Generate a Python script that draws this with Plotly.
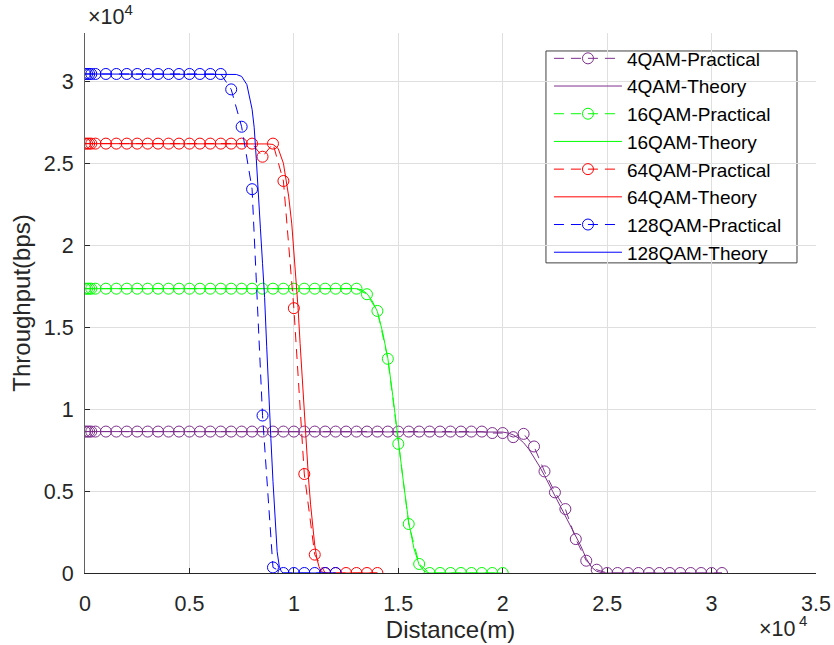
import plotly.graph_objects as go

# ---------------- data ----------------
# Practical (simulated) sample distances in metres
DIST_4QAM_P = [0, 100, 200, 300] + list(range(500, 30501, 500))
DIST_16QAM_P = [0, 100, 200, 300] + list(range(500, 20001, 500))
DIST_64QAM_P = [0, 100, 200, 300] + list(range(500, 14001, 500))
DIST_128QAM_P = [0, 100, 200, 300] + list(range(500, 12001, 500))

THR_4QAM_P = [
    8630, 8630, 8630, 8630,
    8630, 8630, 8630, 8630, 8630, 8630, 8630, 8630, 8630, 8630,
    8630, 8630, 8630, 8630, 8630, 8630, 8630, 8630, 8630, 8630,
    8630, 8630, 8630, 8630, 8630, 8630, 8630, 8630, 8630, 8630,
    8630, 8630, 8630, 8630, 8630,
    8630, 8630, 8630,
    8540, 8540, 8290, 8490, 7720, 6200, 4920, 3900, 2070, 750, 200, 0,
    0, 0, 0, 0, 0, 0, 0, 0, 0, 0, 0,
]
THR_16QAM_P = [
    17350, 17350, 17350, 17350,
    17350, 17350, 17350, 17350, 17350, 17350, 17350, 17350, 17350, 17350,
    17350, 17350, 17350, 17350, 17350, 17350, 17350, 17350, 17350, 17350,
    17350, 17350, 17350, 17350, 17350,
    17350, 17010, 15990, 13070, 7880, 2990, 550,
    0, 0, 0, 0, 0, 0, 0, 0,
]
THR_64QAM_P = [
    26200, 26200, 26200, 26200,
    26200, 26200, 26200, 26200, 26200, 26200, 26200, 26200, 26200, 26200,
    26200, 26200, 26200, 26200, 26200,
    26200, 25400, 26200, 23920, 16160, 6040, 1120,
    0, 0, 0, 0, 0, 0,
]
THR_128QAM_P = [
    30450, 30450, 30450, 30450,
    30450, 30450, 30450, 30450, 30450, 30450, 30450, 30450, 30450, 30450,
    30450, 30450, 30450,
    29510, 27230, 23420, 9610, 340,
    0, 0, 0, 0, 0, 0,
]

# Theory curves
DIST_4QAM_T = [0, 19500, 20000, 20250, 20500, 20750, 21000, 21250, 21500, 21750,
               22000, 22250, 22500, 22750, 23000, 23250, 23500, 23750, 24000,
               24250, 24500, 24750, 25000, 30500]
THR_4QAM_T = [8630, 8630, 8600, 8540, 8430, 8230, 7950, 7560, 7080, 6530,
              5950, 5340, 4730, 4130, 3530, 2920, 2300, 1620, 880,
              360, 100, 20, 0, 0]

DIST_16QAM_T = [0, 13000, 13250, 13500, 13750, 14000, 14250, 14500, 14750, 15000,
                15250, 15500, 15750, 16000, 16250, 16500, 20000]
THR_16QAM_T = [17350, 17350, 17280, 17050, 16600, 15950, 14700, 13100, 10700, 8000,
               5500, 3100, 1500, 500, 100, 0, 0]

DIST_64QAM_T = [0, 8500, 8750, 9000, 9250, 9500, 9750, 9900, 10000, 10100, 10200,
                10300, 10400, 10500, 10600, 10700, 10800, 10900, 11000, 11100,
                11200, 11300, 11400, 11500, 14000]
THR_64QAM_T = [26200, 26200, 26180, 26150, 25900, 25000, 23000, 21300, 19700, 18000, 16200,
               14000, 11800, 9700, 7700, 5800, 4200, 2800, 1700, 900,
               400, 130, 30, 0, 0]

DIST_128QAM_T = [0, 7000, 7250, 7500, 7750, 8000, 8100, 8200, 8300, 8400, 8500,
                 8600, 8700, 8800, 8900, 9000, 9100, 9200, 9300, 9400, 9500, 12000]
THR_128QAM_T = [30450, 30450, 30420, 30300, 29800, 28300, 27200, 25300, 23400, 21000, 18900,
                16800, 13800, 10500, 8200, 5600, 3000, 1300, 420, 90, 0, 0]

X_TICKS = [0, 5000, 10000, 15000, 20000, 25000, 30000, 35000]
X_TICK_TEXT = ["0", "0.5", "1", "1.5", "2", "2.5", "3", "3.5"]
Y_TICKS = [0, 5000, 10000, 15000, 20000, 25000, 30000]
Y_TICK_TEXT = ["0", "0.5", "1", "1.5", "2", "2.5", "3"]

SERIES = [
    ("4QAM", "#7E2F8E", DIST_4QAM_P, THR_4QAM_P, DIST_4QAM_T, THR_4QAM_T),
    ("16QAM", "#00FF00", DIST_16QAM_P, THR_16QAM_P, DIST_16QAM_T, THR_16QAM_T),
    ("64QAM", "#FF0000", DIST_64QAM_P, THR_64QAM_P, DIST_64QAM_T, THR_64QAM_T),
    ("128QAM", "#0000FF", DIST_128QAM_P, THR_128QAM_P, DIST_128QAM_T, THR_128QAM_T),
]

FONT = "Arial, Liberation Sans, Helvetica, sans-serif"
AX_COLOR = "#262626"
GRID = "#DFDFDF"

fig = go.Figure()
for name, col, xp, yp, xt, yt in SERIES:
    fig.add_trace(go.Scatter(
        x=xp, y=yp, mode="lines+markers", name=f"{name}-Practical",
        line=dict(color=col, width=1, dash="10px,7px"),
        marker=dict(symbol="circle-open", size=11, color=col, line=dict(width=1, color=col)),
    ))
    fig.add_trace(go.Scatter(
        x=xt, y=yt, mode="lines", name=f"{name}-Theory",
        line=dict(color=col, width=1),
    ))

fig.update_layout(
    width=834, height=645, autosize=False,
    margin=dict(l=85, r=18, t=33, b=72, pad=0),
    paper_bgcolor="white", plot_bgcolor="white",
    font=dict(family=FONT, color=AX_COLOR),
    showlegend=True,
    legend=dict(
        x=0.6347, y=0.988, xanchor="left", yanchor="top",
        bgcolor="rgba(0,0,0,0)", borderwidth=0,
        font=dict(family=FONT, size=19, color="black"),
        itemwidth=68, tracegroupgap=0,
    ),
    shapes=[
        # legend frame
        dict(type="rect", xref="paper", yref="paper",
             x0=0.6306, x1=0.974, y0=0.5743, y1=0.9667,
             fillcolor="white", line=dict(color="#404040", width=1), layer="between"),
    ],
    xaxis=dict(
        range=[0, 35000], tickmode="array", tickvals=X_TICKS, ticktext=X_TICK_TEXT,
        automargin=False,
        showgrid=True, gridcolor=GRID, gridwidth=1, zeroline=False,
        showline=True, linecolor=AX_COLOR, linewidth=1, mirror=False,
        ticks="inside", ticklen=5, tickcolor=AX_COLOR, ticklabelstandoff=11,
        tickfont=dict(size=21.5, color=AX_COLOR),
        title=dict(text="Distance(m)", font=dict(size=24, color=AX_COLOR), standoff=3),
    ),
    yaxis=dict(
        range=[0, 32950], tickmode="array", tickvals=Y_TICKS, ticktext=Y_TICK_TEXT,
        automargin=False,
        showgrid=True, gridcolor=GRID, gridwidth=1, zeroline=False,
        showline=True, linecolor="#606060", linewidth=1, mirror=False,
        ticks="inside", ticklen=5, tickcolor=AX_COLOR, ticklabelstandoff=6,
        tickfont=dict(size=21.5, color=AX_COLOR),
        title=dict(text="Throughput(bps)", font=dict(size=24, color=AX_COLOR), standoff=6),
    ),
    annotations=[
        # y-axis exponent (top left)
        dict(text="×10<sup>4</sup>", xref="paper", yref="paper", x=0.0, y=1.0,
             xanchor="left", yanchor="bottom", showarrow=False, xshift=1, yshift=2,
             font=dict(size=21.5, color=AX_COLOR, family=FONT)),
        # x-axis exponent (bottom right), base and superscript
        dict(text="×10", xref="paper", yref="paper", x=1.0, y=0.0,
             xanchor="right", yanchor="bottom", showarrow=False, xshift=-18, yshift=-70,
             font=dict(size=21.5, color=AX_COLOR, family=FONT)),
        dict(text="4", xref="paper", yref="paper", x=1.0, y=0.0,
             xanchor="left", yanchor="top", showarrow=False, xshift=-19, yshift=-37,
             font=dict(size=15, color=AX_COLOR, family=FONT)),
    ],
)

fig.write_html("out.html")
